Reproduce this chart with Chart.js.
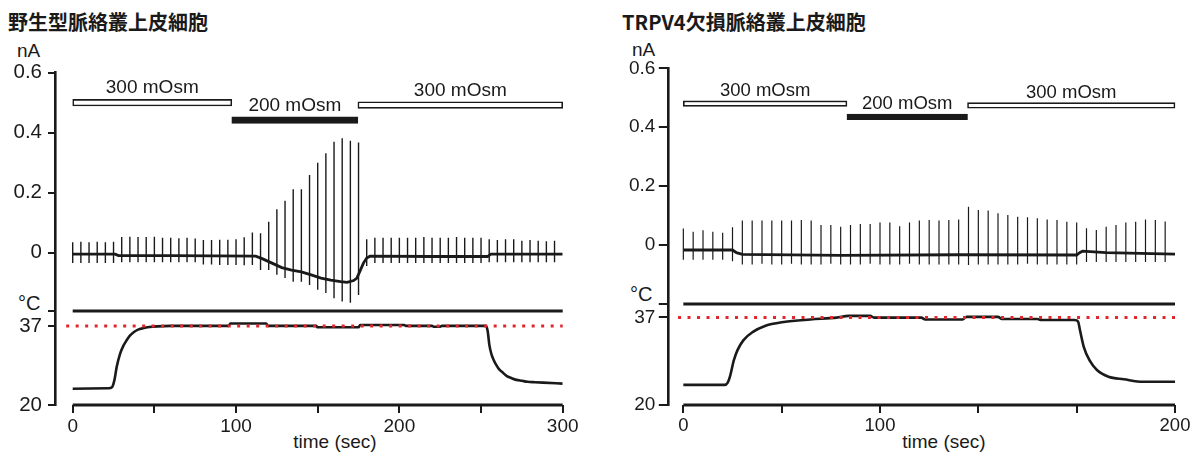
<!DOCTYPE html>
<html lang="ja">
<head>
<meta charset="utf-8">
<title>脈絡叢上皮細胞 低浸透圧応答</title>
<script src="https://cdn.jsdelivr.net/npm/chart.js@4.4.1/dist/chart.umd.min.js"></script>
<style>
  html, body { margin: 0; padding: 0; background: #fff; }
  body { width: 1199px; height: 455px; position: relative; overflow: hidden;
         font-family: "Liberation Sans", Arial, sans-serif; color: #1a1a1a; }
  .panel { position: absolute; top: 0; height: 455px; }
  .panel canvas { position: absolute; left: 0; }
  .txt { position: absolute; white-space: nowrap; line-height: 1; }
  .title { font-family: "Noto Sans CJK JP", "Liberation Sans", sans-serif; font-size: 20px; font-weight: 700; }
</style>
</head>
<body>

<div class="panel" style="left:0;width:600px">
  <div class="txt title" style="left:8px;top:12px">野生型脈絡叢上皮細胞</div>
  <div class="txt" style="left:17px;top:40.5px;font-size:19px">nA</div>
  <div class="txt" style="left:18px;top:293px;font-size:20px">°C</div>
  <div class="txt" style="left:285px;top:432px;width:100px;text-align:center;font-size:19px">time (sec)</div>
  <canvas id="wtCur" width="600" height="320" style="top:0"></canvas>
  <canvas id="wtTemp" width="600" height="165" style="top:290px"></canvas>
</div>

<div class="panel" style="left:600px;width:599px">
  <div class="txt title" style="left:22px;top:12px">TRPV4欠損脈絡叢上皮細胞</div>
  <div class="txt" style="left:32px;top:39.5px;font-size:19px">nA</div>
  <div class="txt" style="left:30px;top:284px;font-size:20px">°C</div>
  <div class="txt" style="left:294px;top:432px;width:100px;text-align:center;font-size:19px">time (sec)</div>
  <canvas id="koCur" width="599" height="320" style="top:0"></canvas>
  <canvas id="koTemp" width="599" height="165" style="top:290px"></canvas>
</div>

<script>
// ---------- wild type (left) ----------
const wtSpikeT = [0, 5, 10, 15, 20, 25, 30, 35, 40, 45, 50, 55, 60, 65, 70, 75, 80, 85, 90, 95,
  100, 105, 110, 115, 120, 125, 130, 135, 140, 145, 150, 155, 160, 165, 170, 175, 180, 185, 190, 195,
  200, 205, 210, 215, 220, 225, 230, 235, 240, 245, 250, 255, 260, 265, 270, 275, 280, 285, 290, 295];
const wtSpikeTop = [0.035, 0.036, 0.035, 0.036, 0.035, 0.036,
  0.052, 0.053, 0.052, 0.052, 0.053, 0.05, 0.05, 0.048, 0.05, 0.047,
  0.042, 0.042, 0.043, 0.043, 0.045, 0.051,
  0.067, 0.065, 0.103, 0.145, 0.173, 0.211, 0.211, 0.259, 0.300, 0.331, 0.370, 0.381, 0.373, 0.367,
  0.045, 0.05, 0.05, 0.05, 0.05, 0.05, 0.05, 0.052, 0.05, 0.05, 0.05, 0.052, 0.05, 0.05, 0.05,
  0.045, 0.042, 0.045, 0.045, 0.04, 0.042, 0.04, 0.038, 0.04];
const wtSpikeBottom = [-0.035, -0.035, -0.035, -0.035, -0.035, -0.035,
  -0.032, -0.032, -0.032, -0.032, -0.032, -0.032, -0.032, -0.032, -0.032, -0.032,
  -0.04, -0.04, -0.041, -0.041, -0.041, -0.042,
  -0.041, -0.058, -0.058, -0.074, -0.085, -0.097, -0.097, -0.108, -0.124, -0.135, -0.152, -0.163, -0.167, -0.141,
  -0.045, -0.035, -0.035, -0.035, -0.035, -0.035, -0.035, -0.035, -0.035, -0.035, -0.035, -0.035, -0.035, -0.035, -0.035,
  -0.032, -0.032, -0.032, -0.032, -0.032, -0.032, -0.032, -0.032, -0.032];
const wtBaseT = [0, 26, 28, 60, 112, 116, 122, 128, 134, 140, 146, 152, 158, 164, 168, 172, 174, 176, 178, 180, 182, 220, 254, 256, 300];
const wtBase = [-0.005, -0.005, -0.01, -0.01, -0.012, -0.02, -0.035, -0.05, -0.058, -0.064, -0.074, -0.085, -0.092, -0.097,
  -0.099, -0.093, -0.085, -0.06, -0.035, -0.018, -0.012, -0.013, -0.013, -0.005, -0.005];
const wtTempT = [0, 22, 24, 25.5, 27, 29, 31, 33, 35, 37.5, 40, 43, 47, 52, 60, 95.5, 96.5, 118.5, 119.5, 149, 150, 175, 176,
  203, 204, 220, 221, 225, 226, 253, 254, 255.2, 256.4, 257.6, 259.3, 261, 263.5, 265.8, 268.5, 271.6, 275, 278.6, 283, 288, 300];
const wtTemp = [23.5, 23.6, 23.8, 25.3, 28.3, 31.0, 32.7, 33.9, 34.9, 35.7, 36.2, 36.5, 36.75, 36.9, 37.0, 37.0, 37.5, 37.5, 37.0,
  37.0, 36.7, 36.7, 37.2, 37.2, 37.0, 37.0, 36.8, 36.8, 37.0, 37.0, 36.0, 32.7, 30.9, 29.8, 28.6, 27.7, 26.9, 26.2, 25.8,
  25.4, 25.2, 25.0, 24.9, 24.8, 24.6];
const wtOsmStart = [0, 97.4, 174.6];
const wtOsmEnd = [97.4, 174.6, 300];
const wtOsmLevel = [0.50, 0.442, 0.492];
const wtRefT = [-4, 300];          // red dotted 37 °C reference
const wtSepT = [0, 300];
const wtSepTemp = [40.2, 40.2];    // black line at the top of the temperature trace
const wtTimeTicks = [0, 50, 100, 150, 200, 250, 300];
const wtTimeLabels = ['0', '', '100', '', '200', '', '300'];

// ---------- TRPV4 knockout (right) ----------
const koSpikeT = [0, 5, 10, 15, 20, 25, 30, 35, 40, 45, 50, 55, 60, 65, 70, 75, 80, 85, 90, 95,
  100, 105, 110, 115, 120, 125, 130, 135, 140, 145, 150, 155, 160, 165, 170, 175, 180, 185, 190, 195,
  200, 205, 210, 215, 220, 225, 230, 235, 240, 245];
const koSpikeTop = [0.056, 0.045, 0.05, 0.045, 0.042, 0.06,
  0.083, 0.083, 0.083, 0.083, 0.083, 0.083, 0.085, 0.083,
  0.068, 0.068, 0.062, 0.068, 0.071, 0.071, 0.076, 0.076, 0.064, 0.076, 0.083, 0.085, 0.083, 0.085, 0.087,
  0.13, 0.119, 0.117, 0.108, 0.102, 0.096, 0.094, 0.091, 0.087, 0.085, 0.079, 0.076,
  0.057, 0.051, 0.062, 0.068, 0.076, 0.079, 0.087, 0.085, 0.08];
const koSpikeBottom = [-0.05, -0.05, -0.05, -0.05, -0.05, -0.055,
  -0.066, -0.066, -0.064, -0.066, -0.066, -0.064, -0.066, -0.066,
  -0.066, -0.064, -0.066, -0.066, -0.066, -0.064, -0.066, -0.066, -0.066, -0.064, -0.066, -0.066, -0.066, -0.066, -0.066,
  -0.068, -0.066, -0.066, -0.066, -0.066, -0.066, -0.064, -0.066, -0.066, -0.066, -0.066, -0.066,
  -0.058, -0.058, -0.058, -0.058, -0.058, -0.058, -0.058, -0.058, -0.058];
const koBaseT = [0, 25, 27, 30, 80, 140, 200, 201.5, 203, 215, 250];
const koBase = [-0.017, -0.017, -0.026, -0.032, -0.035, -0.033, -0.034, -0.026, -0.021, -0.026, -0.031];
const koTempT = [0, 21, 22.5, 23.7, 25.7, 27.6, 30.6, 35.4, 41.2, 51, 64.6, 78, 84, 95, 97, 121, 123, 142, 144, 160, 162,
  180, 182, 199, 200.7, 201.7, 203.6, 206.5, 210.3, 216.2, 224, 233.7, 250];
const koTemp = [23.9, 23.9, 24.3, 25.5, 28.7, 30.7, 32.6, 34.2, 35.3, 36.1, 36.6, 36.95, 37.3, 37.3, 36.95, 36.95, 36.6,
  36.6, 37.1, 37.1, 36.7, 36.7, 36.5, 36.5, 36.2, 34.5, 31.3, 28.7, 26.8, 25.5, 25.0, 24.5, 24.5];
const koOsmStart = [0, 83.2, 144.5];
const koOsmEnd = [83.2, 144.5, 250];
const koOsmLevel = [0.480, 0.435, 0.474];
const koRefT = [-2.7, 250];
const koSepT = [0, 250];
const koSepTemp = [39.6, 39.6];
const koTimeTicks = [0, 50, 100, 150, 200, 250];
const koTimeLabels = ['0', '', '100', '', '', '200'];

// ---------- shared ----------
const osmLabels = ['300 mOsm', '200 mOsm', '300 mOsm'];
const osmFill = ['#ffffff', '#1a1a1a', '#ffffff'];
const curTicks = [0, 0.2, 0.4, 0.6];
const curTickLabels = ['0', '0.2', '0.4', '0.6'];
const refTemp = [37, 37];
const axisTemp = [20, 20];

const FONT = '"Liberation Sans", Arial, Helvetica, sans-serif';
const INK = '#1a1a1a';
Chart.defaults.font.family = FONT;
Chart.defaults.color = INK;
Chart.defaults.animation = false;
Chart.defaults.events = [];
Chart.defaults.plugins.legend.display = false;
Chart.defaults.plugins.tooltip.enabled = false;

function pts(xs, ys) {
  return xs.map((x, i) => ({ x: x, y: ys[i] }));
}

// one vertical stroke per voltage ramp, separated by gaps
function spikePts(ts, tops, bottoms) {
  const out = [];
  ts.forEach((t, i) => {
    out.push({ x: t, y: tops[i] }, { x: t, y: bottoms[i] }, { x: t, y: null });
  });
  return out;
}

// fixed axis box sizes; label overhang must not shrink the plot area
const fixWidth = w => scale => {
  scale.width = w;
  scale.paddingTop = 0;
  scale.paddingBottom = 0;
};
const fixHeight = h => scale => {
  scale.height = h;
  scale.paddingLeft = 0;
  scale.paddingRight = 0;
};
const fixTicks = vals => scale => { scale.ticks = vals.map(v => ({ value: v })); };

// text above the solution bars
const osmLabelPlugin = {
  id: 'osmText',
  afterDatasetsDraw(chart, args, o) {
    const { ctx, scales } = chart;
    ctx.save();
    ctx.font = o.size + 'px ' + FONT;
    ctx.fillStyle = INK;
    ctx.textAlign = 'center';
    ctx.textBaseline = 'middle';
    o.text.forEach((s, i) => {
      const x = scales.x.getPixelForValue((o.start[i] + o.end[i]) / 2);
      const y = scales.y.getPixelForValue(o.level[i]) - o.gap;
      ctx.fillText(s, x, y);
    });
    ctx.restore();
  }
};

function yAxis(p, min, max, ticks, labels) {
  return {
    type: 'linear', min: min, max: max, offset: false,
    afterFit: fixWidth(p.axisW),
    afterBuildTicks: fixTicks(ticks),
    ticks: { callback: (v, i) => labels[i], font: { size: p.yTickSize }, padding: p.tickPad, color: INK, autoSkip: false },
    grid: { drawOnChartArea: false, drawTicks: true, tickLength: p.tickLen, color: INK, lineWidth: 2, offset: false },
    border: { display: true, color: INK, width: 2.6 }
  };
}

function currentChart(id, p) {
  return new Chart(document.getElementById(id), {
    type: 'line',
    data: {
      datasets: [
        {
          type: 'bar', indexAxis: 'y',
          data: p.osmStart.map((s, i) => ({ x: [s, p.osmEnd[i]], y: p.osmLevel[i] })),
          backgroundColor: osmFill, borderColor: INK, borderWidth: 1.6, borderSkipped: false,
          barThickness: p.barH, clip: false
        },
        {
          data: spikePts(p.spikeT, p.spikeTop, p.spikeBottom),
          borderColor: INK, borderWidth: p.spikeW, pointRadius: 0, spanGaps: false, tension: 0
        },
        {
          data: pts(p.baseT, p.base),
          borderColor: INK, borderWidth: 2.8, pointRadius: 0, tension: 0
        }
      ]
    },
    options: {
      responsive: false,
      layout: { autoPadding: false, padding: { left: 0, right: p.padRight, top: p.curTop, bottom: p.curPadBottom } },
      scales: {
        x: { type: 'linear', display: false, min: p.xMin, max: p.xMax, stacked: false, offset: false },
        y: yAxis(p, p.curMin, 0.6, curTicks, curTickLabels)
      },
      plugins: {
        osmText: { text: osmLabels, start: p.osmStart, end: p.osmEnd, level: p.osmLevel, gap: p.labelGap, size: p.labelSize }
      }
    },
    plugins: [osmLabelPlugin]
  });
}

function temperatureChart(id, p) {
  return new Chart(document.getElementById(id), {
    type: 'line',
    data: {
      datasets: [
        {
          data: pts(p.refT, refTemp),
          borderColor: '#e3262b', borderWidth: 3, borderDash: [3, 6.5], pointRadius: 0, clip: false
        },
        {
          data: pts(p.tempT, p.temp),
          borderColor: INK, borderWidth: 2.6, pointRadius: 0, cubicInterpolationMode: 'monotone'
        },
        {
          data: pts(p.sepT, p.sepTemp),
          borderColor: INK, borderWidth: 2.8, pointRadius: 0, clip: false
        },
        {
          data: pts(p.sepT, axisTemp),
          borderColor: INK, borderWidth: 2.8, pointRadius: 0, clip: false
        }
      ]
    },
    options: {
      responsive: false,
      layout: { autoPadding: false, padding: { left: 0, right: p.padRight, top: p.tempTop, bottom: 0 } },
      scales: {
        x: {
          type: 'linear', min: p.xMin, max: p.xMax, offset: false,
          afterFit: fixHeight(50),
          afterBuildTicks: fixTicks(p.timeTicks),
          ticks: { callback: (v, i) => p.timeLabels[i], font: { size: p.xTickSize }, padding: 2, color: INK,
                   maxRotation: 0, autoSkip: false },
          grid: { drawOnChartArea: false, drawTicks: true, tickLength: 8, color: INK, lineWidth: 2 },
          border: { display: false }
        },
        y: yAxis(p, 20, p.sepTemp[0], [20, 37, p.sepTemp[0]], ['20', '37', ''])
      }
    }
  });
}

const wt = {
  spikeT: wtSpikeT, spikeTop: wtSpikeTop, spikeBottom: wtSpikeBottom, baseT: wtBaseT, base: wtBase,
  tempT: wtTempT, temp: wtTemp, osmStart: wtOsmStart, osmEnd: wtOsmEnd, osmLevel: wtOsmLevel,
  refT: wtRefT, sepT: wtSepT, sepTemp: wtSepTemp, timeTicks: wtTimeTicks, timeLabels: wtTimeLabels,
  xMin: -10.84, xMax: 300, axisW: 55, padRight: 37.3, curTop: 72.7, curPadBottom: 11, curMin: -0.188,
  tempTop: 21, yTickSize: 20.5, xTickSize: 19, tickPad: 6, tickLen: 7, barH: 6.5, spikeW: 1.4,
  labelGap: 14.5, labelSize: 19
};
const ko = {
  spikeT: koSpikeT, spikeTop: koSpikeTop, spikeBottom: koSpikeBottom, baseT: koBaseT, base: koBase,
  tempT: koTempT, temp: koTemp, osmStart: koOsmStart, osmEnd: koOsmEnd, osmLevel: koOsmLevel,
  refT: koRefT, sepT: koSepT, sepTemp: koSepTemp, timeTicks: koTimeTicks, timeLabels: koTimeLabels,
  xMin: -7.9, xMax: 250, axisW: 67.8, padRight: 24, curTop: 68.3, curPadBottom: 18.3, curMin: -0.1925,
  tempTop: 14, yTickSize: 19, xTickSize: 18.5, tickPad: 3.5, tickLen: 9, barH: 5.5, spikeW: 1.2,
  labelGap: 13, labelSize: 18.5
};

currentChart('wtCur', wt);
temperatureChart('wtTemp', wt);
currentChart('koCur', ko);
temperatureChart('koTemp', ko);
</script>
</body>
</html>
